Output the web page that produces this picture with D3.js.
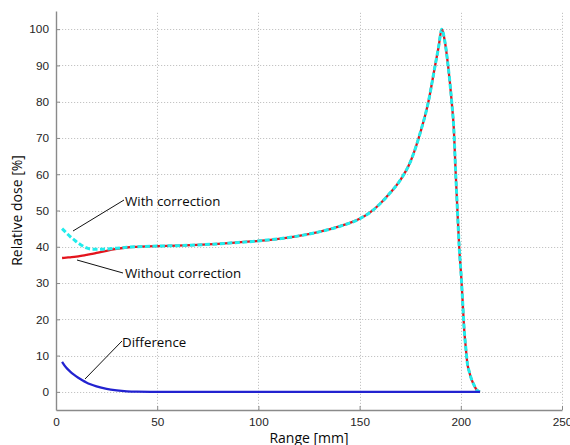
<!DOCTYPE html>
<html>
<head>
<meta charset="utf-8">
<script src="https://cdn.jsdelivr.net/npm/d3@7"></script>
<style>
  html, body { margin: 0; padding: 0; background: #fff; }
  svg { display: block; }
</style>
</head>
<body>
<svg id="chart" width="570" height="445"></svg>
<script>
// Depth positions (mm) shared by all three curves
const depthMm = [3, 5, 7, 9, 11, 13, 15, 17, 20, 25, 30, 35, 40, 50, 60, 70, 80, 90, 100, 110,
  120, 130, 140, 150, 155, 160, 165, 170, 175, 180, 184, 187, 189, 190.6, 192, 193.7, 195.5,
  196.5, 197.5, 198.5, 199.2, 200.3, 201, 201.7, 202.5, 203.2, 204.2, 205.4, 206.7, 207.9, 209.5];

// Relative dose (%) with the correction applied
const withCorrection = [45.0, 43.9, 42.8, 41.9, 41.0, 40.3, 39.7, 39.35, 39.3, 39.4, 39.6, 39.85, 40.0,
  40.2, 40.3, 40.5, 40.8, 41.2, 41.6, 42.2, 43.0, 44.1, 45.6, 47.7, 49.4, 51.8, 54.8, 58.3, 63.3,
  71.5, 80, 89, 95, 100, 97, 90, 80, 73, 60, 48, 40, 31, 24, 17, 12, 8, 5.5, 3.3, 1.7, 0.5, 0];

// Relative dose (%) without correction
const withoutCorrection = [36.9, 37.0, 37.1, 37.2, 37.35, 37.55, 37.75, 37.95, 38.3, 38.9, 39.4, 39.8, 40.0,
  40.2, 40.3, 40.5, 40.8, 41.2, 41.6, 42.2, 43.0, 44.1, 45.6, 47.7, 49.4, 51.8, 54.8, 58.3, 63.3,
  71.5, 80, 89, 95, 100, 97, 90, 80, 73, 60, 48, 40, 31, 24, 17, 12, 8, 5.5, 3.3, 1.7, 0.5, 0];

// Difference between the two (%)
const difference = [8.3, 6.7, 5.6, 4.7, 3.9, 3.2, 2.6, 2.1, 1.5, 0.8, 0.4, 0.15, 0.05,
  0, 0, 0, 0, 0, 0, 0, 0, 0, 0, 0, 0, 0, 0, 0, 0, 0, 0, 0, 0, 0, 0, 0, 0,
  0, 0, 0, 0, 0, 0, 0, 0, 0, 0, 0, 0, 0, 0];

const xTicks = [0, 50, 100, 150, 200, 250];
const yTicks = [0, 10, 20, 30, 40, 50, 60, 70, 80, 90, 100];

const svg = d3.select("#chart");
const W = 570, H = 445;
const m = { left: 56, right: 8, top: 11, bottom: 35 };

const x = d3.scaleLinear().domain([0, 250]).range([m.left, W - m.right]);
const y = d3.scaleLinear().domain([-5, 105]).range([H - m.bottom, m.top]);

svg.append("rect").attr("width", W).attr("height", H).attr("fill", "#fff");

// Dotted grid
const grid = svg.append("g").attr("stroke", "#c4c4c4").attr("stroke-width", 1)
  .attr("stroke-dasharray", "1.2,1.8").attr("fill", "none");
grid.selectAll("line.h").data(yTicks).join("line").attr("class", "h")
  .attr("x1", x(0)).attr("x2", x(250))
  .attr("y1", d => Math.round(y(d)) + 0.5).attr("y2", d => Math.round(y(d)) + 0.5);
grid.selectAll("line.v").data(xTicks.slice(1)).join("line").attr("class", "v")
  .attr("x1", d => Math.round(x(d)) + 0.5).attr("x2", d => Math.round(x(d)) + 0.5)
  .attr("y1", y(-5)).attr("y2", y(105));

// Axes: left and bottom only, ticks pointing inward
const font = "'Liberation Sans', Arial, sans-serif";
const xAxis = d3.axisBottom(x).tickValues(xTicks).tickSizeInner(-4).tickSizeOuter(0).tickPadding(8);
const yAxis = d3.axisLeft(y).tickValues(yTicks).tickSizeInner(-4).tickSizeOuter(0).tickPadding(7);

const gx = svg.append("g").attr("transform", `translate(0,${y(-5)})`).call(xAxis);
const gy = svg.append("g").attr("transform", `translate(${x(0)},0)`).call(yAxis);
[gx, gy].forEach(g => {
  g.select(".domain").attr("stroke", "#8a8a8a").attr("stroke-width", 1.4);
  g.selectAll(".tick line").attr("stroke", "#8a8a8a").attr("stroke-width", 1);
  g.selectAll(".tick text").attr("fill", "#262626").style("font-family", font).style("font-size", "11.8px");
});

// Curves
const pts = vals => depthMm.map((d, i) => [d, vals[i]]);
const line = d3.line().x(d => x(d[0])).y(d => y(d[1])).curve(d3.curveMonotoneX);

svg.append("path").datum(pts(withoutCorrection)).attr("d", line)
  .attr("fill", "none").attr("stroke", "#e3141c").attr("stroke-width", 2.3);
svg.append("path").datum(pts(withCorrection)).attr("d", line)
  .attr("fill", "none").attr("stroke", "#22ecec").attr("stroke-width", 3)
  .attr("stroke-dasharray", "5,2.5");
svg.append("path").datum(pts(difference)).attr("d", line)
  .attr("fill", "none").attr("stroke", "#2222d0").attr("stroke-width", 2.3);

// Annotations with leader lines
const notes = [
  { text: "With correction", from: [73, 231], to: [124, 200], tx: 125, ty: 201 },
  { text: "Without correction", from: [77, 260], to: [123, 273], tx: 125, ty: 273 },
  { text: "Difference", from: [85, 379], to: [122, 341], tx: 122, ty: 342 }
];
const ann = svg.append("g");
ann.selectAll("line").data(notes).join("line")
  .attr("x1", d => d.from[0]).attr("y1", d => d.from[1])
  .attr("x2", d => d.to[0]).attr("y2", d => d.to[1])
  .attr("stroke", "#111").attr("stroke-width", 1);
ann.selectAll("text").data(notes).join("text")
  .attr("x", d => d.tx).attr("y", d => d.ty).attr("dy", "0.35em")
  .attr("fill", "#0a0a0a").style("font-family", "'Open Sans', sans-serif").style("font-size", "13.3px")
  .text(d => d.text);

// Axis titles
svg.append("text").attr("x", (x(0) + x(250)) / 2).attr("y", 443)
  .attr("text-anchor", "middle").attr("fill", "#0a0a0a")
  .style("font-family", "'Open Sans', sans-serif").style("font-size", "14px")
  .text("Range [mm]");
svg.append("text").attr("transform", `translate(22,${(y(-5) + y(105)) / 2}) rotate(-90)`)
  .attr("text-anchor", "middle").attr("fill", "#0a0a0a")
  .style("font-family", "'Open Sans', sans-serif").style("font-size", "14px")
  .text("Relative dose [%]");
</script>
</body>
</html>
